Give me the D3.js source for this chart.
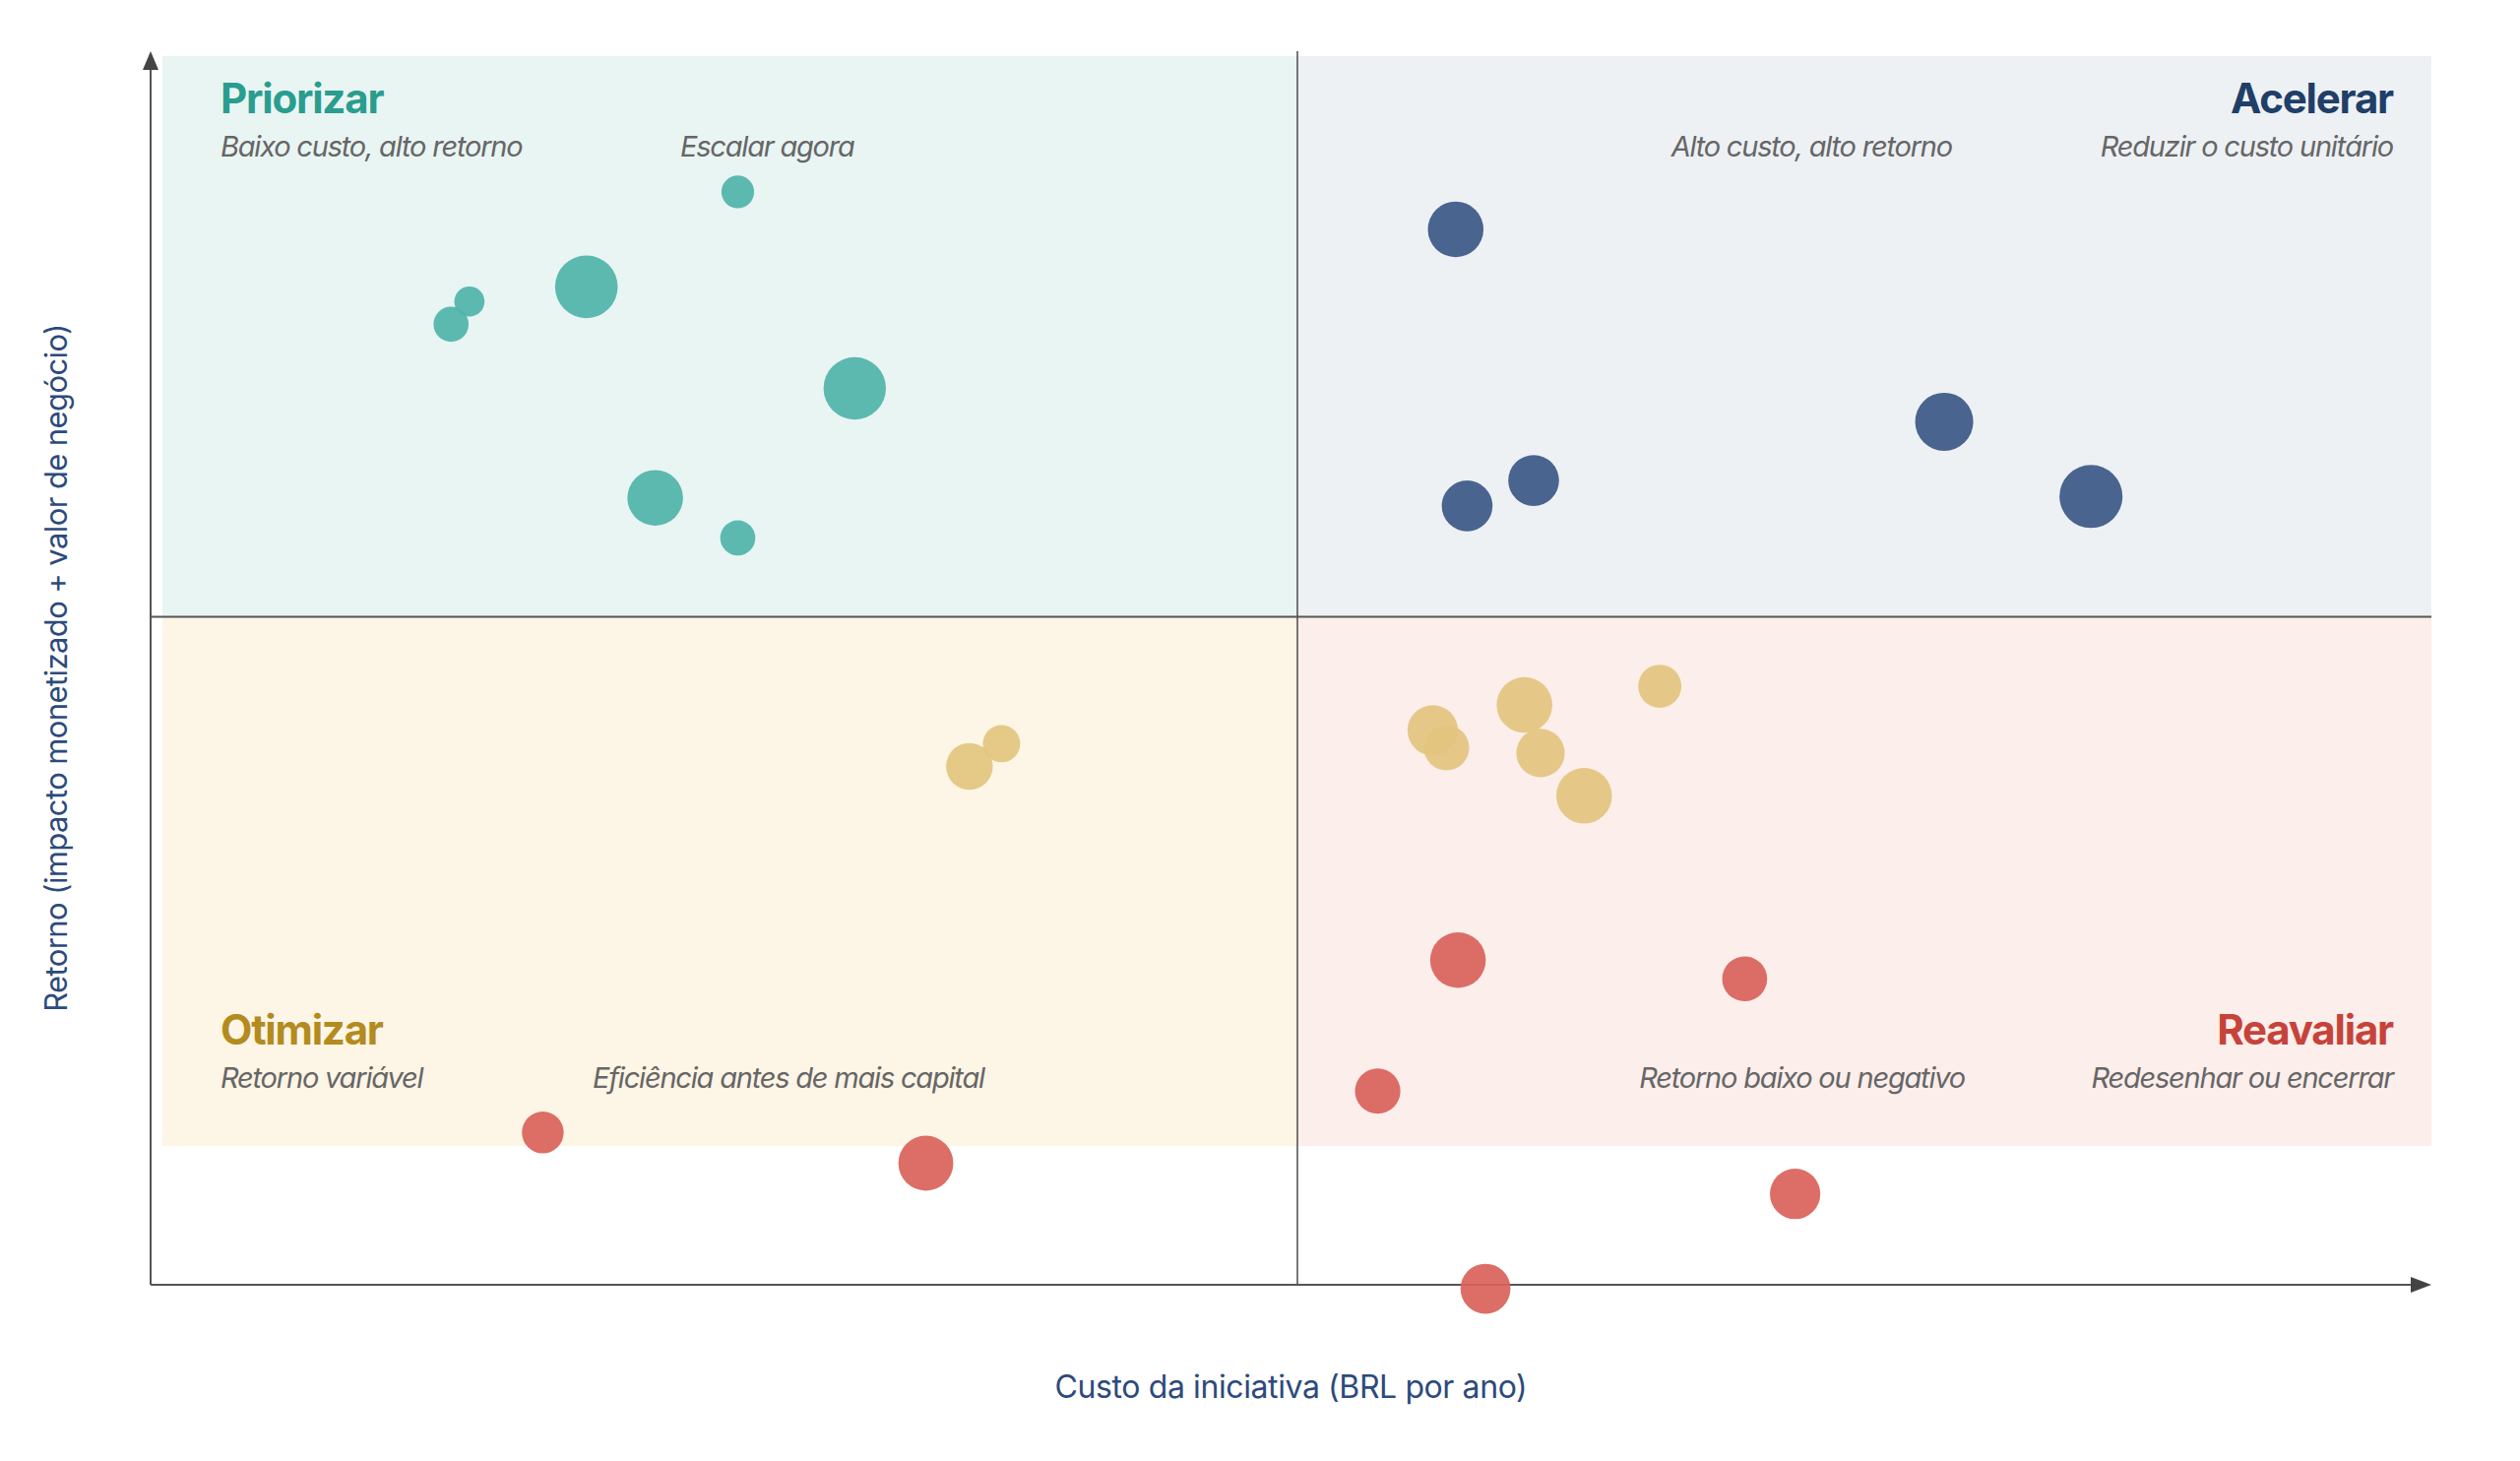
<!DOCTYPE html>
<html>
<head>
<meta charset="utf-8">
<title>Matriz custo x retorno</title>
<style>
  body { margin: 0; background: #fff; }
  svg { display: block; }
  text { font-family: Inter, "Noto Sans", sans-serif; }
</style>
</head>
<body>
<script src="https://cdn.jsdelivr.net/npm/d3@7"></script>
<script>
// dados: custo (x), retorno (y), tamanho da bolha
var priorizarCusto   = [25.6, 19.0, 13.9, 13.1, 30.7, 22.0, 25.6];
var priorizarRetorno = [81.8, 74.7, 73.6, 71.9, 67.1, 58.9, 55.9];
var priorizarTam     = [27, 99, 23, 31, 98, 78, 31];

var acelerarCusto   = [56.9, 78.2, 84.6, 60.3, 57.4];
var acelerarRetorno = [79.0, 64.6, 59.0, 60.2, 58.3];
var acelerarTam     = [78, 85, 100, 65, 65];

var otimizarCusto   = [35.7, 37.1, 55.9, 56.5, 59.9, 60.6, 62.5, 65.8];
var otimizarRetorno = [38.8, 40.5, 41.5, 40.2, 43.4, 39.8, 36.6, 44.8];
var otimizarTam     = [55, 35, 64, 52, 78, 59, 78, 47];

var reavaliarCusto   = [17.1, 33.8, 57.0, 69.5, 53.5, 71.7, 58.2];
var reavaliarRetorno = [11.4, 9.1, 24.3, 22.9, 14.5, 6.8, -0.3];
var reavaliarTam     = [44, 76, 78, 51, 52, 64, 63];

var custoMeio = 50, retornoMeio = 50;

var quadNomes   = ["Priorizar", "Acelerar", "Otimizar", "Reavaliar"];
var quadSub     = ["Baixo custo, alto retorno", "Reduzir o custo unitário", "Retorno variável", "Redesenhar ou encerrar"];
var quadDica    = ["Escalar agora", "Alto custo, alto retorno", "Eficiência antes de mais capital", "Retorno baixo ou negativo"];

var eixoX = "Custo da iniciativa (BRL por ano)";
var eixoY = "Retorno (impacto monetizado + valor de negócio)";

// cores
var corPonto = { Priorizar: "#4fb3aa", Acelerar: "#3b5886", Otimizar: "#e3c47f", Reavaliar: "#d9625a" };
var corFundo = { Priorizar: "#e9f5f3", Acelerar: "#edf1f4", Otimizar: "#fdf5e5", Reavaliar: "#fceeeb" };
var corTitulo = { Priorizar: "#2a9d8f", Acelerar: "#1f3f68", Otimizar: "#b38b1f", Reavaliar: "#c6433a" };

var W = 2560, H = 1484;
var x0 = 153, xEnd = 2470, yBase = 1305, yTop = 52;
var bgLeft = 165, bgTop = 57, bgBottom = 1164;

var x = d3.scaleLinear().domain([0, 100]).range([x0, 2483]);
var y = d3.scaleLinear().domain([0, 100]).range([yBase, yBase - 1357]);
var r = d3.scaleSqrt().domain([0, 100]).range([0, 32]);

var svg = d3.select("body").append("svg").attr("width", W).attr("height", H);

var xm = x(custoMeio), ym = y(retornoMeio);

// fundos dos quadrantes
var fundos = [
  { q: "Priorizar", x1: bgLeft, x2: xm, y1: bgTop, y2: ym },
  { q: "Acelerar",  x1: xm, x2: xEnd, y1: bgTop, y2: ym },
  { q: "Otimizar",  x1: bgLeft, x2: xm, y1: ym, y2: bgBottom },
  { q: "Reavaliar", x1: xm, x2: xEnd, y1: ym, y2: bgBottom }
];
svg.selectAll("rect.fundo").data(fundos).enter().append("rect")
  .attr("class", "fundo")
  .attr("x", function(d) { return d.x1; })
  .attr("y", function(d) { return d.y1; })
  .attr("width", function(d) { return d.x2 - d.x1; })
  .attr("height", function(d) { return d.y2 - d.y1; })
  .attr("fill", function(d) { return corFundo[d.q]; });

// divisores
svg.append("line").attr("x1", xm).attr("x2", xm).attr("y1", yTop).attr("y2", yBase)
  .attr("stroke", "#555").attr("stroke-width", 1.6);
svg.append("line").attr("x1", x0).attr("x2", xEnd).attr("y1", ym).attr("y2", ym)
  .attr("stroke", "#555").attr("stroke-width", 2.2);

// eixos com setas
svg.append("line").attr("x1", x0).attr("x2", x0).attr("y1", yBase).attr("y2", yTop + 16)
  .attr("stroke", "#555").attr("stroke-width", 2);
svg.append("line").attr("x1", x0).attr("x2", xEnd - 18).attr("y1", yBase).attr("y2", yBase)
  .attr("stroke", "#555").attr("stroke-width", 2);
svg.append("path").attr("d", d3.line()([[x0 - 8, yTop + 19], [x0, yTop], [x0 + 8, yTop + 19]]) + "Z")
  .attr("fill", "#444");
svg.append("path").attr("d", d3.line()([[xEnd - 21, yBase - 8], [xEnd, yBase], [xEnd - 21, yBase + 8]]) + "Z")
  .attr("fill", "#444");

// textos dos quadrantes
var txt = [
  { q: 0, x: 224, anchor: "start", yT: 115, yS: 159, dx: 691 },
  { q: 1, x: 2431, anchor: "end", yT: 115, yS: 159, dx: 1983 },
  { q: 2, x: 224, anchor: "start", yT: 1061, yS: 1105, dx: 602 },
  { q: 3, x: 2431, anchor: "end", yT: 1061, yS: 1105, dx: 1996 }
];
txt.forEach(function(t) {
  var nome = quadNomes[t.q];
  svg.append("text").attr("x", t.x).attr("y", t.yT).attr("text-anchor", t.anchor)
    .attr("font-size", 42).attr("font-weight", 700).attr("letter-spacing", -1.2)
    .attr("fill", corTitulo[nome]).text(nome);
  svg.append("text").attr("x", t.x).attr("y", t.yS).attr("text-anchor", t.anchor)
    .attr("font-size", 29).attr("font-style", "italic").attr("letter-spacing", -1.2)
    .attr("fill", "#666").text(quadSub[t.q]);
  svg.append("text").attr("x", t.dx).attr("y", t.yS).attr("text-anchor", t.anchor)
    .attr("font-size", 29).attr("font-style", "italic").attr("letter-spacing", -1.2)
    .attr("fill", "#666").text(quadDica[t.q]);
});

// pontos
var series = [
  { q: "Priorizar", c: priorizarCusto, v: priorizarRetorno, s: priorizarTam },
  { q: "Acelerar",  c: acelerarCusto,  v: acelerarRetorno,  s: acelerarTam },
  { q: "Otimizar",  c: otimizarCusto,  v: otimizarRetorno,  s: otimizarTam },
  { q: "Reavaliar", c: reavaliarCusto, v: reavaliarRetorno, s: reavaliarTam }
];
var pontos = [];
series.forEach(function(sr) {
  sr.c.forEach(function(c, i) { pontos.push({ q: sr.q, c: c, v: sr.v[i], s: sr.s[i] }); });
});
svg.append("g").selectAll("circle").data(pontos).enter().append("circle")
  .attr("cx", function(d) { return x(d.c); })
  .attr("cy", function(d) { return y(d.v); })
  .attr("r", function(d) { return r(d.s); })
  .attr("fill", function(d) { return corPonto[d.q]; })
  .attr("fill-opacity", 0.92);

// titulos dos eixos
svg.append("text").attr("x", (x0 + xEnd) / 2).attr("y", 1420).attr("text-anchor", "middle")
  .attr("font-size", 32).attr("letter-spacing", -0.4).attr("fill", "#2d4a7c").text(eixoX);
svg.append("text").attr("transform", "translate(68," + ((yTop + yBase) / 2) + ") rotate(-90)")
  .attr("text-anchor", "middle").attr("font-size", 31).attr("letter-spacing", -0.6)
  .attr("fill", "#2d4a7c").text(eixoY);
</script>
</body>
</html>
